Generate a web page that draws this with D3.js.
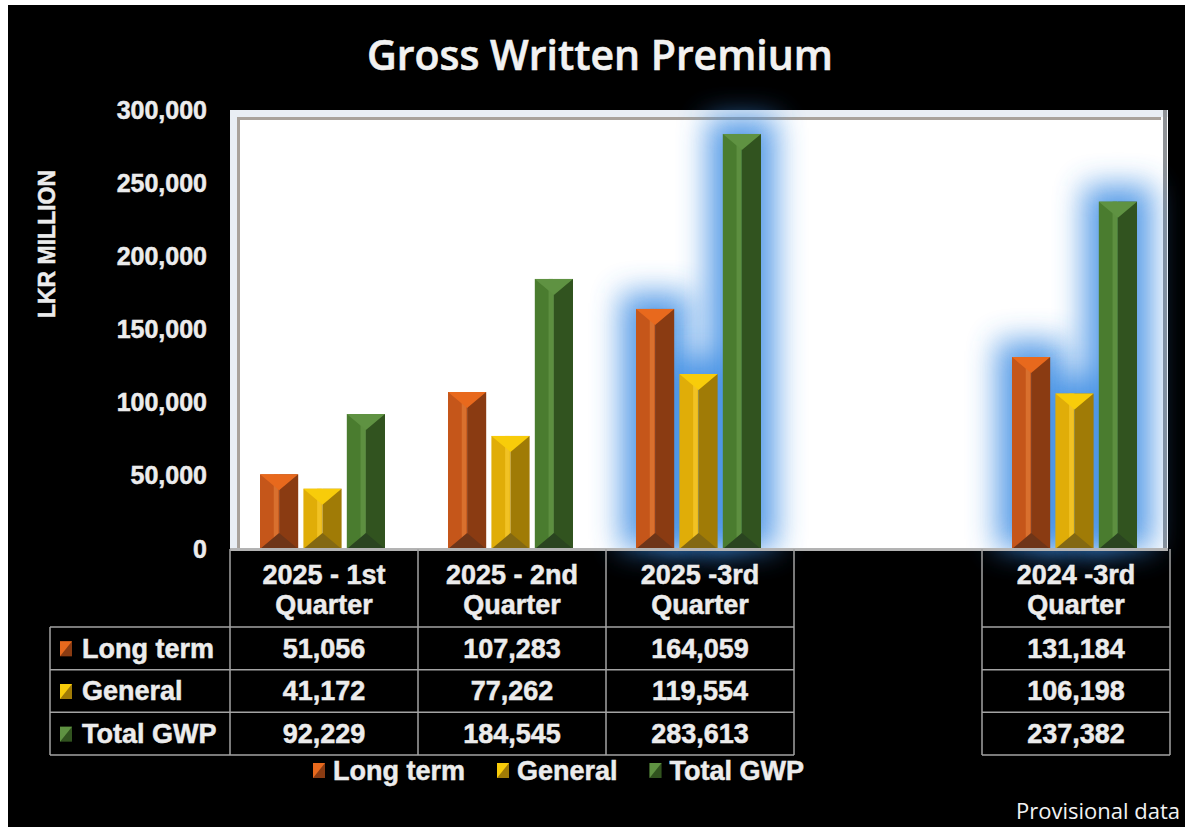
<!DOCTYPE html>
<html>
<head>
<meta charset="utf-8">
<script src="https://cdn.jsdelivr.net/npm/d3@7/dist/d3.min.js"></script>
<style>
  html, body { margin: 0; padding: 0; background: #fff; }
  svg { display: block; }
  .tick-label, .cell, .row-head, .legend-text, .axis-title {
    font-family: "Liberation Sans", Arial, sans-serif;
    font-weight: bold;
    fill: #ececec;
    stroke: #ececec;
    stroke-width: 0.5px;
  }
</style>
</head>
<body>
<div id="chart"></div>
<script>
// chart data
var categories = ["2025 - 1st\nQuarter", "2025 - 2nd\nQuarter", "2025 -3rd\nQuarter", "", "2024 -3rd\nQuarter"];
var seriesNames = ["Long term", "General", "Total GWP"];
var longTerm = [51056, 107283, 164059, null, 131184];
var general = [41172, 77262, 119554, null, 106198];
var totalGwp = [92229, 184545, 283613, null, 237382];
var yTicks = [0, 50000, 100000, 150000, 200000, 250000, 300000];
var glowCategories = ["2025 -3rd\nQuarter", "2024 -3rd\nQuarter"];

var seriesValues = [longTerm, general, totalGwp];

// bevel colours per series: top cap, left face, highlight strip, right face, bottom
var seriesColors = [
    { top: "#e8691d", left: "#c5561a", hi: "#d9702e", right: "#8a3b12", bottom: "#6e3518" },
    { top: "#f8cc0a", left: "#e0ad08", hi: "#f1c224", right: "#a07b06", bottom: "#836812" },
    { top: "#5f9242", left: "#4a7c2f", hi: "#5d8f40", right: "#31531f", bottom: "#2a4420" }
];

var W = 1185, H = 827;
var plot = { left: 230, right: 1170, top: 110, bottom: 549 };

var svg = d3.select("#chart").append("svg")
    .attr("width", W)
    .attr("height", H);

// 背景: white page with black slide
svg.append("rect").attr("width", W).attr("height", H).attr("fill", "#fff");
svg.append("rect").attr("x", 8).attr("y", 5).attr("width", W - 8).attr("height", H - 5).attr("fill", "#000");

// title
svg.append("text")
    .attr("x", 600)
    .attr("y", 70)
    .attr("text-anchor", "middle")
    .style("font-family", "'Open Sans', sans-serif")
    .style("font-weight", 600)
    .style("font-size", "41px")
    .style("fill", "#f2f2f2")
    .style("stroke", "#f2f2f2")
    .style("stroke-width", "0.6px")
    .text("Gross Written Premium");

// scales
var x = d3.scaleBand().domain(categories).range([plot.left, plot.right]);
var xs = d3.scaleBand().domain(seriesNames).range([30, 155]).paddingInner(0.12);
var y = d3.scaleLinear().domain([0, 300000]).range([plot.bottom, plot.top]);
var rowY = d3.scaleBand().domain(seriesNames).range([627, 755]);

// plot area frame (bevelled)
var frameR = 1168;
svg.append("rect")
    .attr("x", plot.left).attr("y", plot.top)
    .attr("width", frameR - plot.left).attr("height", plot.bottom - plot.top + 1)
    .attr("fill", "#fff");
svg.append("rect")
    .attr("x", plot.left).attr("y", plot.top)
    .attr("width", frameR - plot.left).attr("height", 7)
    .attr("fill", "#e9eef4");
svg.append("rect")
    .attr("x", plot.left).attr("y", plot.top)
    .attr("width", 7).attr("height", plot.bottom - plot.top)
    .attr("fill", "#e9eef4");
svg.append("rect")
    .attr("x", plot.left + 7).attr("y", plot.top + 7)
    .attr("width", frameR - plot.left - 14).attr("height", 3)
    .attr("fill", "#a9a29b");
svg.append("rect")
    .attr("x", plot.left + 7).attr("y", plot.top + 7)
    .attr("width", 3).attr("height", plot.bottom - plot.top - 7)
    .attr("fill", "#a9a29b");
svg.append("rect")
    .attr("x", frameR - 5).attr("y", plot.top)
    .attr("width", 4).attr("height", plot.bottom - plot.top + 1)
    .attr("fill", "#8f9296");

// glow behind highlighted groups
var defs = svg.append("defs");
defs.append("filter")
    .attr("id", "glow")
    .attr("x", "-200%").attr("y", "-50%")
    .attr("width", "500%").attr("height", "200%")
    .append("feGaussianBlur")
    .attr("stdDeviation", 15);

var bars = [];
seriesNames.forEach(function (s, i) {
    categories.forEach(function (c, j) {
        if (seriesValues[i][j] == null) return;
        bars.push({ series: s, si: i, cat: c, value: seriesValues[i][j] });
    });
});

svg.append("g").selectAll("rect")
    .data(bars.filter(d => glowCategories.indexOf(d.cat) >= 0))
    .enter().append("rect")
    .attr("x", d => x(d.cat) + xs(d.series) - 15)
    .attr("y", d => y(d.value) - 16)
    .attr("width", xs.bandwidth() + 30)
    .attr("height", d => plot.bottom - y(d.value) + 16)
    .attr("fill", "#3a8be3")
    .attr("opacity", 0.85)
    .attr("filter", "url(#glow)");

// bars drawn as bevelled columns
var barG = svg.append("g").selectAll("g")
    .data(bars)
    .enter().append("g");

var bw = xs.bandwidth();
barG.each(function (d) {
    var g = d3.select(this);
    var col = seriesColors[d.si];
    var x0 = x(d.cat) + xs(d.series);
    var y0 = y(d.value);
    var y1 = plot.bottom;
    var xc = x0 + bw / 2;
    var cap = Math.min(16, (y1 - y0) / 2);

    g.append("rect").attr("x", x0).attr("y", y0).attr("width", bw / 2).attr("height", y1 - y0).attr("fill", col.left);
    g.append("rect").attr("x", xc).attr("y", y0).attr("width", bw / 2).attr("height", y1 - y0).attr("fill", col.right);
    g.append("rect").attr("x", x0 + bw * 0.36).attr("y", y0).attr("width", bw * 0.12).attr("height", y1 - y0).attr("fill", col.hi);
    g.append("path")
        .attr("d", "M" + x0 + "," + y1 + "L" + xc + "," + (y1 - cap) + "L" + (x0 + bw) + "," + y1 + "Z")
        .attr("fill", col.bottom);
    g.append("path")
        .attr("d", "M" + x0 + "," + y0 + "L" + (x0 + bw) + "," + y0 + "L" + xc + "," + (y0 + cap) + "Z")
        .attr("fill", col.top);
});

// baseline
svg.append("rect")
    .attr("x", plot.left).attr("y", plot.bottom - 1)
    .attr("width", frameR - plot.left).attr("height", 3)
    .attr("fill", "#b3b3b3");

// y axis
var yAxis = svg.append("g")
    .attr("transform", "translate(" + plot.left + ",0)")
    .call(d3.axisLeft(y).tickValues(yTicks).tickFormat(d3.format(",")).tickSize(0).tickPadding(23));
yAxis.select(".domain").remove();
yAxis.selectAll("text")
    .attr("class", "tick-label")
    .attr("fill", null)
    .style("font-size", "25px");

svg.append("text")
    .attr("class", "axis-title")
    .attr("transform", "translate(47,244) rotate(-90)")
    .attr("text-anchor", "middle")
    .attr("dy", "0.35em")
    .style("font-size", "23px")
    .text("LKR MILLION");

// data table
var lineColor = "#a3a3a3";
var tableG = svg.append("g");

// vertical lines
categories.forEach(function (c) {
    tableG.append("line")
        .attr("x1", x(c) + x.bandwidth()).attr("x2", x(c) + x.bandwidth())
        .attr("y1", plot.bottom).attr("y2", 755)
        .attr("stroke", lineColor).attr("stroke-width", 1.5);
});
tableG.append("line")
    .attr("x1", plot.left).attr("x2", plot.left)
    .attr("y1", plot.bottom).attr("y2", 755)
    .attr("stroke", lineColor).attr("stroke-width", 1.5);
tableG.append("line")
    .attr("x1", 50).attr("x2", 50)
    .attr("y1", 627).attr("y2", 755)
    .attr("stroke", lineColor).attr("stroke-width", 1.5);

// horizontal lines, skipping the empty column
var rowLines = [627].concat(seriesNames.map(s => rowY(s) + rowY.bandwidth()));
rowLines.forEach(function (ly) {
    tableG.append("line")
        .attr("x1", 50).attr("x2", plot.left)
        .attr("y1", ly).attr("y2", ly)
        .attr("stroke", lineColor).attr("stroke-width", 1.5);
    categories.forEach(function (c) {
        if (c === "") return;
        tableG.append("line")
            .attr("x1", x(c)).attr("x2", x(c) + x.bandwidth())
            .attr("y1", ly).attr("y2", ly)
            .attr("stroke", lineColor).attr("stroke-width", 1.5);
    });
});

// category header text
categories.forEach(function (c) {
    c.split("\n").forEach(function (line, k) {
        tableG.append("text")
            .attr("class", "cell")
            .attr("x", x(c) + x.bandwidth() / 2)
            .attr("y", 575 + k * 30)
            .attr("dy", "0.35em")
            .attr("text-anchor", "middle")
            .style("font-size", "27px")
            .text(line);
    });
});

// marker drawn as bevelled square
function drawMarker(g, mx, my, si) {
    var col = seriesColors[si];
    g.append("rect").attr("x", mx).attr("y", my).attr("width", 12).attr("height", 15).attr("fill", col.right);
    g.append("path")
        .attr("d", "M" + mx + "," + my + "L" + (mx + 12) + "," + my + "L" + mx + "," + (my + 15) + "Z")
        .attr("fill", col.top);
}

// rows
seriesNames.forEach(function (s, i) {
    var cy = rowY(s) + rowY.bandwidth() / 2;
    drawMarker(tableG, 60, cy - 7, i);
    tableG.append("text")
        .attr("class", "row-head")
        .attr("x", 82)
        .attr("y", cy)
        .attr("dy", "0.35em")
        .style("font-size", "27px")
        .text(s);
    categories.forEach(function (c, j) {
        if (seriesValues[i][j] == null) return;
        tableG.append("text")
            .attr("class", "cell")
            .attr("x", x(c) + x.bandwidth() / 2)
            .attr("y", cy)
            .attr("dy", "0.35em")
            .attr("text-anchor", "middle")
            .style("font-size", "27px")
            .text(d3.format(",")(seriesValues[i][j]));
    });
});

// legend
var legendG = svg.append("g");
var lx = 313;
seriesNames.forEach(function (s, i) {
    drawMarker(legendG, lx, 763, i);
    var t = legendG.append("text")
        .attr("class", "legend-text")
        .attr("x", lx + 20)
        .attr("y", 771)
        .attr("dy", "0.35em")
        .style("font-size", "27px")
        .text(s);
    lx += 20 + t.node().getComputedTextLength() + 32;
});

// footer note
svg.append("text")
    .attr("x", 1180)
    .attr("y", 819)
    .attr("text-anchor", "end")
    .style("font-family", "'Open Sans', sans-serif")
    .style("font-size", "22px")
    .style("fill", "#f2f2f2")
    .text("Provisional data");
</script>
</body>
</html>
